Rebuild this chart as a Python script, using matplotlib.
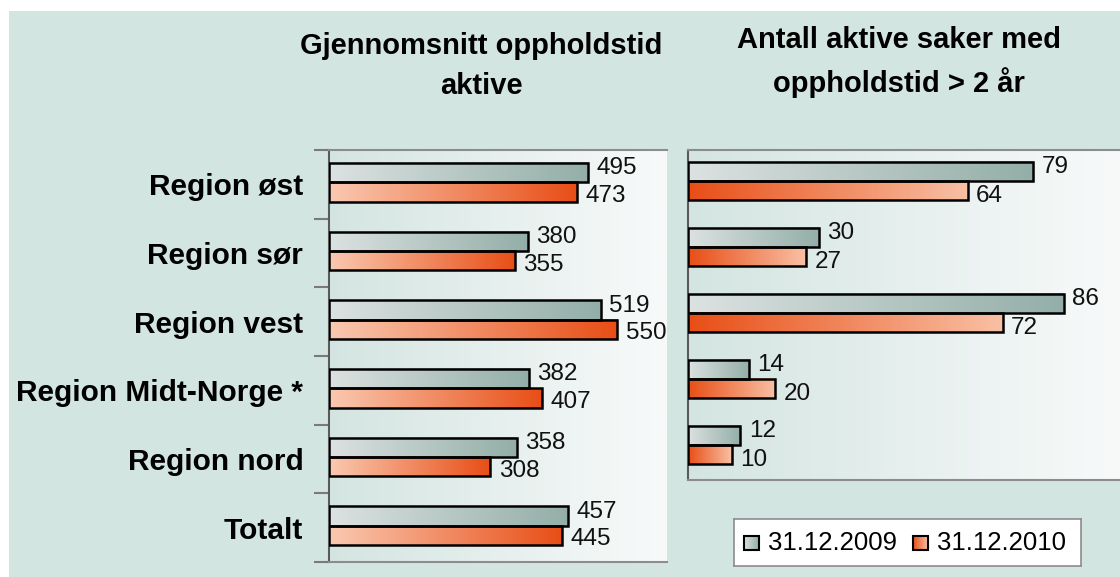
import numpy as np
import matplotlib.pyplot as plt
from matplotlib.colors import LinearSegmentedColormap
from matplotlib.patches import Rectangle

# data
regions = ['Region øst', 'Region sør', 'Region vest', 'Region Midt-Norge *', 'Region nord', 'Totalt']
avg_2009 = [495, 380, 519, 382, 358, 457]
avg_2010 = [473, 355, 550, 407, 308, 445]
count_2009 = [79, 30, 86, 14, 12]
count_2010 = [64, 27, 72, 20, 10]
series_names = ['31.12.2009', '31.12.2010']
title_left = 'Gjennomsnitt oppholdstid\naktive'
title_right = 'Antall aktive saker med\noppholdstid > 2 år'

plt.rcParams['font.family'] = ['Liberation Sans', 'DejaVu Sans']

W, H = 1120, 577
panel_col = '#d3e5e1'
grey_cm = LinearSegmentedColormap.from_list('grey', ['#dce2e1', '#93aea8'])
orange_cm = LinearSegmentedColormap.from_list('orange', ['#fac9b1', '#e84e16'])
orange_rev = LinearSegmentedColormap.from_list('orange_r', ['#e84e16', '#f9c0a4'])
area_cm = LinearSegmentedColormap.from_list('area', ['#d4e5e1', '#f8fafa'])
ramp = np.linspace(0, 1, 256).reshape(1, -1)


def px_axes(x0, y0, x1, y1):
    # pixel box (top-left origin) -> figure fraction
    return [x0 / W, 1 - y1 / H, (x1 - x0) / W, (y1 - y0) / H]


def grad_bars(ax, ypos, vals, h, cmap, dy):
    for y, v in zip(ypos, vals):
        ax.imshow(ramp, extent=[0, v, y - h / 2, y + h / 2], cmap=cmap,
                  aspect='auto', interpolation='bilinear', zorder=2)
    ax.barh(ypos, vals, height=h, facecolor='none', edgecolor='black', linewidth=1.8, zorder=3)
    for y, v in zip(ypos, vals):
        ax.annotate(str(v), (v, y), xytext=(6, dy), textcoords='offset points',
                    va='center', ha='left', fontsize=17.5, color='#111111')


def style_area(ax, xmax, n):
    ax.imshow(ramp, extent=[0, xmax, -0.5, n - 0.5], cmap=area_cm, aspect='auto', zorder=0)
    ax.set_xlim(0, xmax)
    ax.set_ylim(n - 0.5, -0.5)
    ax.set_xticks([])
    ax.spines['right'].set_visible(False)
    for s in ['top', 'bottom']:
        ax.spines[s].set_color('#8c8c8c')
        ax.spines[s].set_linewidth(1.5)
    ax.spines['left'].set_color('#5a5a5a')
    ax.spines['left'].set_linewidth(1.5)


fig = plt.figure(figsize=(W / 100, H / 100), dpi=100)
fig.patches.append(Rectangle((9 / W, 0), 1, 1 - 11 / H, transform=fig.transFigure,
                             facecolor=panel_col, edgecolor='none', zorder=-1))

# left panel
axl = fig.add_axes(px_axes(329, 150, 667, 562))
n = len(regions)
y = np.arange(n) - 0.03
h = 0.28
style_area(axl, 645, n)
grad_bars(axl, y - h / 2, avg_2009, h, grey_cm, 3)
grad_bars(axl, y + h / 2, avg_2010, h, orange_cm, -3)
axl.set_yticks(np.arange(n + 1) - 0.5)
axl.set_yticklabels([])
axl.tick_params(axis='y', which='major', length=11, width=1.5, color='#7a7a7a', direction='out')
axl.set_yticks(np.arange(n), minor=True)
axl.set_yticklabels(regions, minor=True, fontsize=21.5, fontweight='bold')
axl.tick_params(axis='y', which='minor', length=0, pad=18.5)

# right panel
axr = fig.add_axes(px_axes(688, 150, 1125, 480))
m = len(count_2009)
y2 = np.arange(m) - 0.03
h2 = 0.29
style_area(axr, 100, m)
grad_bars(axr, y2 - h2 / 2, count_2009, h2, grey_cm, 3)
grad_bars(axr, y2 + h2 / 2, count_2010, h2, orange_rev, -4)
axr.set_yticks([])

# titles
fig.text(481 / W, 1 - 66 / H, title_left, ha='center', va='center', fontsize=21,
         fontweight='bold', linespacing=1.5)
fig.text(899 / W, 1 - 62 / H, title_right, ha='center', va='center', fontsize=21,
         fontweight='bold', linespacing=1.5)

# legend box
axg = fig.add_axes(px_axes(734, 519, 1081, 566))
axg.set_xticks([])
axg.set_yticks([])
for s in axg.spines.values():
    s.set_color('#8c8c8c')
    s.set_linewidth(1.2)
for x0, name, cm in [(10, series_names[0], grey_cm), (179, series_names[1], orange_rev)]:
    axg.imshow(ramp, extent=[x0, x0 + 15, 16, 30], cmap=cm, aspect='auto')
    axg.add_patch(Rectangle((x0, 16), 15, 14, facecolor='none', edgecolor='black', linewidth=1.5))
    axg.text(x0 + 24, 23, name, va='center', ha='left', fontsize=18.5)
axg.set_xlim(0, 347)
axg.set_ylim(0, 47)

plt.savefig('out.png', dpi=100)
